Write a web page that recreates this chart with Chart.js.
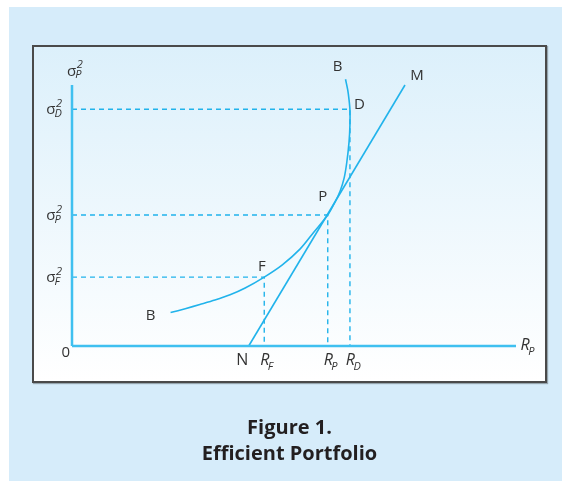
<!DOCTYPE html>
<html>
<head>
<meta charset="utf-8">
<script src="https://cdn.jsdelivr.net/npm/chart.js@4.4.1/dist/chart.umd.min.js"></script>
<style>
  html, body { margin: 0; padding: 0; background: #fff; }
  body { width: 562px; height: 481px; position: relative; overflow: hidden; }
  #panel { position: absolute; left: 9px; top: 7px; right: 0; bottom: 0; background: #d6ecfa; }
  #box {
    position: absolute; left: 32px; top: 45px; width: 511px; height: 334px;
    border: 2px solid #4a4a4a;
    background: linear-gradient(#dcf0fb, #ffffff);
    box-shadow: 1px 1px 1px rgba(0, 0, 0, 0.3);
  }
  #chart { position: absolute; left: 0; top: 0; }
  #caption {
    position: absolute; left: 32px; width: 515px; top: 414px;
    text-align: center; font: bold 20px/26px 'Open Sans', sans-serif; color: #231f20;
  }
</style>
</head>
<body>
<div id="panel"></div>
<div id="box"></div>
<canvas id="chart" width="562" height="481"></canvas>
<div id="caption">Figure 1.<br>Efficient Portfolio</div>

<script>
// ejes en unidades 0-100 (rendimiento R_P horizontal, varianza vertical)
const xMax = 100;
const yMax = 100;

// puntos F, P, D
const pointNames = ['F', 'P', 'D'];
const returns = [43.3, 57.6, 62.6];
const variances = [26.4, 50.2, 90.7];

// frontera B-B
const frontierR = [22.2, 25.5, 28.8, 32.2, 35.6, 39.0, 43.3, 47.3, 51.4, 54.5, 57.6,
    59.2, 60.4, 61.3, 61.9, 62.4, 62.6, 62.6, 62.4, 62.1, 61.6];
const frontierVar = [12.8, 14.3, 15.9, 17.6, 19.6, 22.2, 26.4, 31.0, 37.2, 43.7, 50.2,
    55.0, 59.4, 64.4, 70.5, 78.2, 84.7, 90.4, 94.3, 98.1, 102.2];

// recta N-M
const lineR = [39.8, 75.0];
const lineVar = [0, 100];

const blue = '#21b3eb';
const axisBlue = '#3fc0f0';
const ink = '#333333';
const FONT = '"Open Sans", sans-serif';

function pts(xs, ys) {
    return xs.map((v, i) => ({x: v, y: ys[i]}));
}

let datasets = [];

// ejes
datasets.push({data: [{x: 0, y: 0}, {x: xMax, y: 0}], borderColor: axisBlue, borderWidth: 2.5, order: 0});
datasets.push({data: [{x: 0, y: 0}, {x: 0, y: yMax}], borderColor: axisBlue, borderWidth: 2.5, order: 0});

// frontera y recta
datasets.push({data: pts(frontierR, frontierVar), borderColor: blue, borderWidth: 1.6, tension: 0.3, order: 1});
datasets.push({data: pts(lineR, lineVar), borderColor: blue, borderWidth: 1.6, order: 1});

// guias punteadas
pointNames.forEach((n, i) => {
    datasets.push({
        data: [{x: 0, y: variances[i]}, {x: returns[i], y: variances[i]}, {x: returns[i], y: 0}],
        borderColor: blue, borderWidth: 1.4, borderDash: [5, 4], order: 2
    });
});

// letra con subindice y superindice
function term(ctx, main, mainFont, sub, sup, x0, base, subDx, subDy, supDy) {
    ctx.font = mainFont;
    ctx.fillText(main, x0, base);
    const w = ctx.measureText(main).width;
    ctx.font = 'italic 11px ' + FONT;
    if (sup) ctx.fillText(sup, x0 + w + 0.5, base - supDy);
    if (sub) ctx.fillText(sub, x0 + w + subDx, base + subDy);
}
function termWidth(ctx, main, mainFont, sub, sup, subDx) {
    ctx.font = mainFont;
    const w = ctx.measureText(main).width;
    ctx.font = 'italic 11px ' + FONT;
    const ws = sub ? ctx.measureText(sub).width + subDx : 0;
    const wp = sup ? ctx.measureText(sup).width + 0.5 : 0;
    return w + Math.max(ws, wp);
}

const labelPlugin = {
    id: 'labels',
    afterDatasetsDraw(chart) {
        const {ctx, scales: {x, y}} = chart;
        const x0 = x.getPixelForValue(0);
        const y0 = y.getPixelForValue(0);
        const sigma = '15px ' + FONT;
        const rFont = 'italic 16px ' + FONT;
        ctx.save();
        ctx.fillStyle = ink;
        ctx.textBaseline = 'alphabetic';
        ctx.textAlign = 'left';

        // etiquetas del eje vertical
        pointNames.forEach((n, i) => {
            const py = y.getPixelForValue(variances[i]);
            const w = termWidth(ctx, 'σ', sigma, n, '2', -1);
            term(ctx, 'σ', sigma, n, '2', x0 - 10 - w, py + 5, -1, 2.6, 7.4);
        });
        // titulo eje vertical
        term(ctx, 'σ', sigma, 'P', '2', x0 - 5, y.getPixelForValue(yMax) - 9.5, -1, 2.6, 7.4);

        // etiquetas del eje horizontal
        pointNames.forEach((n, i) => {
            const px = x.getPixelForValue(returns[i]);
            ctx.font = rFont;
            const w = ctx.measureText('R').width;
            term(ctx, 'R', rFont, n, null, px - w / 2 + 0.5, y0 + 19, -1.5, 5, 0);
        });
        // titulo eje horizontal
        term(ctx, 'R', rFont, 'P', null, x.getPixelForValue(xMax) + 4.5, y0 + 3.5, -1.5, 5, 0);

        // origen
        ctx.font = '15px ' + FONT;
        ctx.textAlign = 'right';
        ctx.fillText('0', x0 - 2, y0 + 11);

        // letras de los puntos
        ctx.textAlign = 'center';
        const lab = (t, vx, vy, dx, dy) => ctx.fillText(t, x.getPixelForValue(vx) + dx, y.getPixelForValue(vy) + dy);
        ctx.font = '15px ' + FONT;
        lab('B', frontierR[0], frontierVar[0], -20, 7.5);
        const last = frontierR.length - 1;
        lab('B', frontierR[last], frontierVar[last], -8, -8.5);
        lab('F', returns[0], variances[0], -2.5, -6.5);
        lab('P', returns[1], variances[1], -5, -14);
        lab('D', returns[2], variances[2], 9.5, 0);
        lab('M', lineR[1], lineVar[1], 12, -5.5);
        ctx.font = '16px ' + FONT;
        lab('N', lineR[0], lineVar[0], -6.5, 19);
        ctx.restore();
    }
};

datasets.forEach(d => { d.pointRadius = 0; d.clip = false; d.fill = false; });

let myChart = new Chart(document.getElementById('chart'), {
    type: 'line',
    data: {datasets: datasets},
    options: {
        responsive: false,
        animation: false,
        devicePixelRatio: 1,
        events: [],
        layout: {padding: {left: 72, top: 85, right: 46, bottom: 135}},
        scales: {
            x: {type: 'linear', min: 0, max: xMax, display: false},
            y: {type: 'linear', min: 0, max: yMax, display: false}
        },
        plugins: {legend: {display: false}, tooltip: {enabled: false}}
    },
    plugins: [labelPlugin]
});
</script>
</body>
</html>
